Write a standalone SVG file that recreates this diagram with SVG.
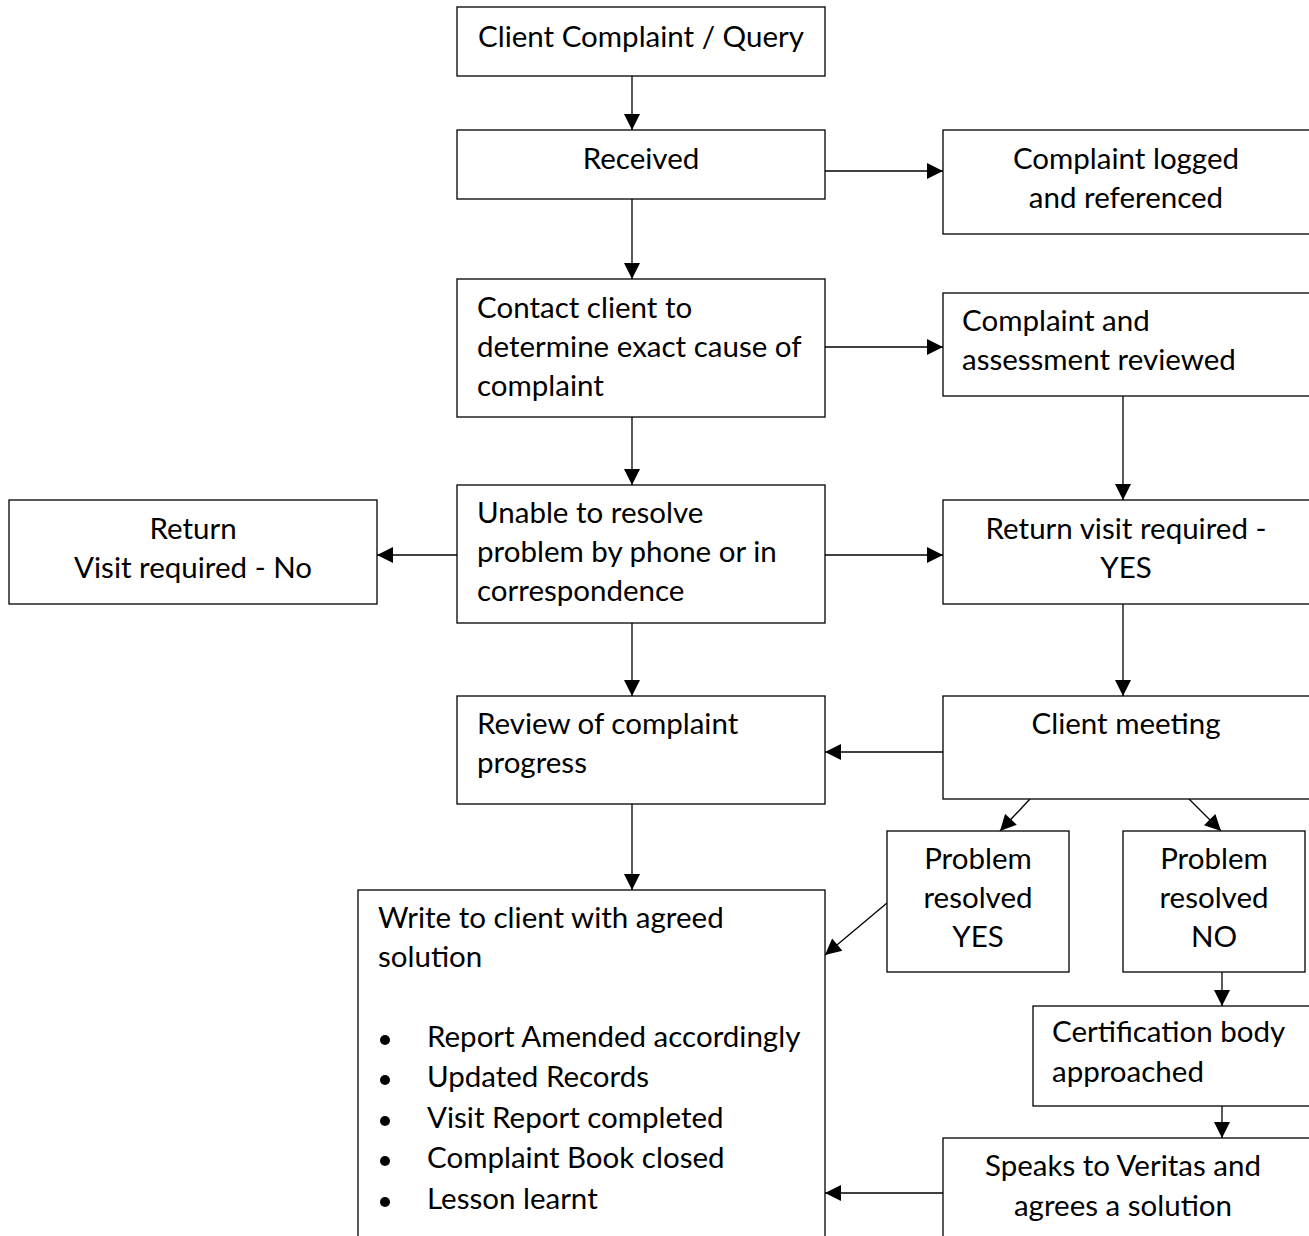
<svg xmlns="http://www.w3.org/2000/svg" width="1309" height="1236" viewBox="0 0 1309 1236">
<defs>
<marker id="ah" viewBox="0 0 10 10" refX="10" refY="5" markerWidth="17" markerHeight="16" markerUnits="userSpaceOnUse" orient="auto">
<path d="M0,0 L10,5 L0,10 z" fill="#000"/>
</marker>
<style>
rect{fill:#fff;stroke:#000;stroke-width:1.3}
text{font-family:Lato,"Open Sans","Liberation Sans",sans-serif;font-size:29.5px;fill:#000}
.c{text-anchor:middle}
#connectors line{stroke:#000;stroke-width:1.3;marker-end:url(#ah)}
</style>
</defs>
<rect x="0" y="0" width="1309" height="1236" style="fill:#fff;stroke:none"/>
<g id="connectors">
<line x1="632" y1="76" x2="632" y2="130"/>
<line x1="825" y1="171" x2="943" y2="171"/>
<line x1="632" y1="199" x2="632" y2="279"/>
<line x1="825" y1="347" x2="943" y2="347"/>
<line x1="632" y1="417" x2="632" y2="485"/>
<line x1="457" y1="555" x2="377" y2="555"/>
<line x1="825" y1="555" x2="943" y2="555"/>
<line x1="1123" y1="396" x2="1123" y2="500"/>
<line x1="1123" y1="604" x2="1123" y2="696"/>
<line x1="632" y1="623" x2="632" y2="696"/>
<line x1="943" y1="752" x2="825" y2="752"/>
<line x1="632" y1="804" x2="632" y2="890"/>
<line x1="1030" y1="799" x2="1000" y2="831"/>
<line x1="1189" y1="799" x2="1221" y2="831"/>
<line x1="887" y1="903" x2="825" y2="955"/>
<line x1="1222" y1="972" x2="1222" y2="1006"/>
<line x1="1222" y1="1106" x2="1222" y2="1138"/>
<line x1="943" y1="1193" x2="825" y2="1193"/>
</g>
<g id="n1"><rect x="457" y="7" width="368" height="69"/><text class="c" x="641" y="47">Client Complaint / Query</text></g>
<g id="n2"><rect x="457" y="130" width="368" height="69"/><text class="c" x="641" y="169">Received</text></g>
<g id="n3"><rect x="943" y="130" width="370" height="104"/><text class="c" x="1126" y="169">Complaint logged</text><text class="c" x="1126" y="208">and referenced</text></g>
<g id="n4"><rect x="457" y="279" width="368" height="138"/><text x="477" y="318">Contact client to</text><text x="477" y="357">determine exact cause of</text><text x="477" y="396">complaint</text></g>
<g id="n5"><rect x="943" y="293" width="370" height="103"/><text x="962" y="331">Complaint and</text><text x="962" y="370">assessment reviewed</text></g>
<g id="n6"><rect x="457" y="485" width="368" height="138"/><text x="477" y="523">Unable to resolve</text><text x="477" y="562">problem by phone or in</text><text x="477" y="601">correspondence</text></g>
<g id="n7"><rect x="9" y="500" width="368" height="104"/><text class="c" x="193" y="539">Return</text><text class="c" x="193" y="578">Visit required - No</text></g>
<g id="n8"><rect x="943" y="500" width="370" height="104"/><text class="c" x="1126" y="539">Return visit required -</text><text class="c" x="1126" y="578">YES</text></g>
<g id="n9"><rect x="457" y="696" width="368" height="108"/><text x="477" y="734">Review of complaint</text><text x="477" y="773">progress</text></g>
<g id="n10"><rect x="943" y="696" width="370" height="103"/><text class="c" x="1126" y="734">Client meeting</text></g>
<g id="n11"><rect x="887" y="831" width="182" height="141"/><text class="c" x="978" y="869">Problem</text><text class="c" x="978" y="908">resolved</text><text class="c" x="978" y="947">YES</text></g>
<g id="n12"><rect x="1123" y="831" width="182" height="141"/><text class="c" x="1214" y="869">Problem</text><text class="c" x="1214" y="908">resolved</text><text class="c" x="1214" y="947">NO</text></g>
<g id="n13"><rect x="358" y="890" width="467" height="360"/>
<text x="378" y="928">Write to client with agreed</text><text x="378" y="967">solution</text>
<circle cx="385" cy="1040" r="5"/><text x="427" y="1047">Report Amended accordingly</text>
<circle cx="385" cy="1080" r="5"/><text x="427" y="1087">Updated Records</text>
<circle cx="385" cy="1121" r="5"/><text x="427" y="1128">Visit Report completed</text>
<circle cx="385" cy="1161" r="5"/><text x="427" y="1168">Complaint Book closed</text>
<circle cx="385" cy="1202" r="5"/><text x="427" y="1209">Lesson learnt</text>
</g>
<g id="n14"><rect x="1033" y="1006" width="280" height="100"/><text x="1052" y="1042">Certification body</text><text x="1052" y="1082">approached</text></g>
<g id="n15"><rect x="943" y="1138" width="370" height="110"/><text class="c" x="1123" y="1176">Speaks to Veritas and</text><text class="c" x="1123" y="1216">agrees a solution</text></g>
</svg>
